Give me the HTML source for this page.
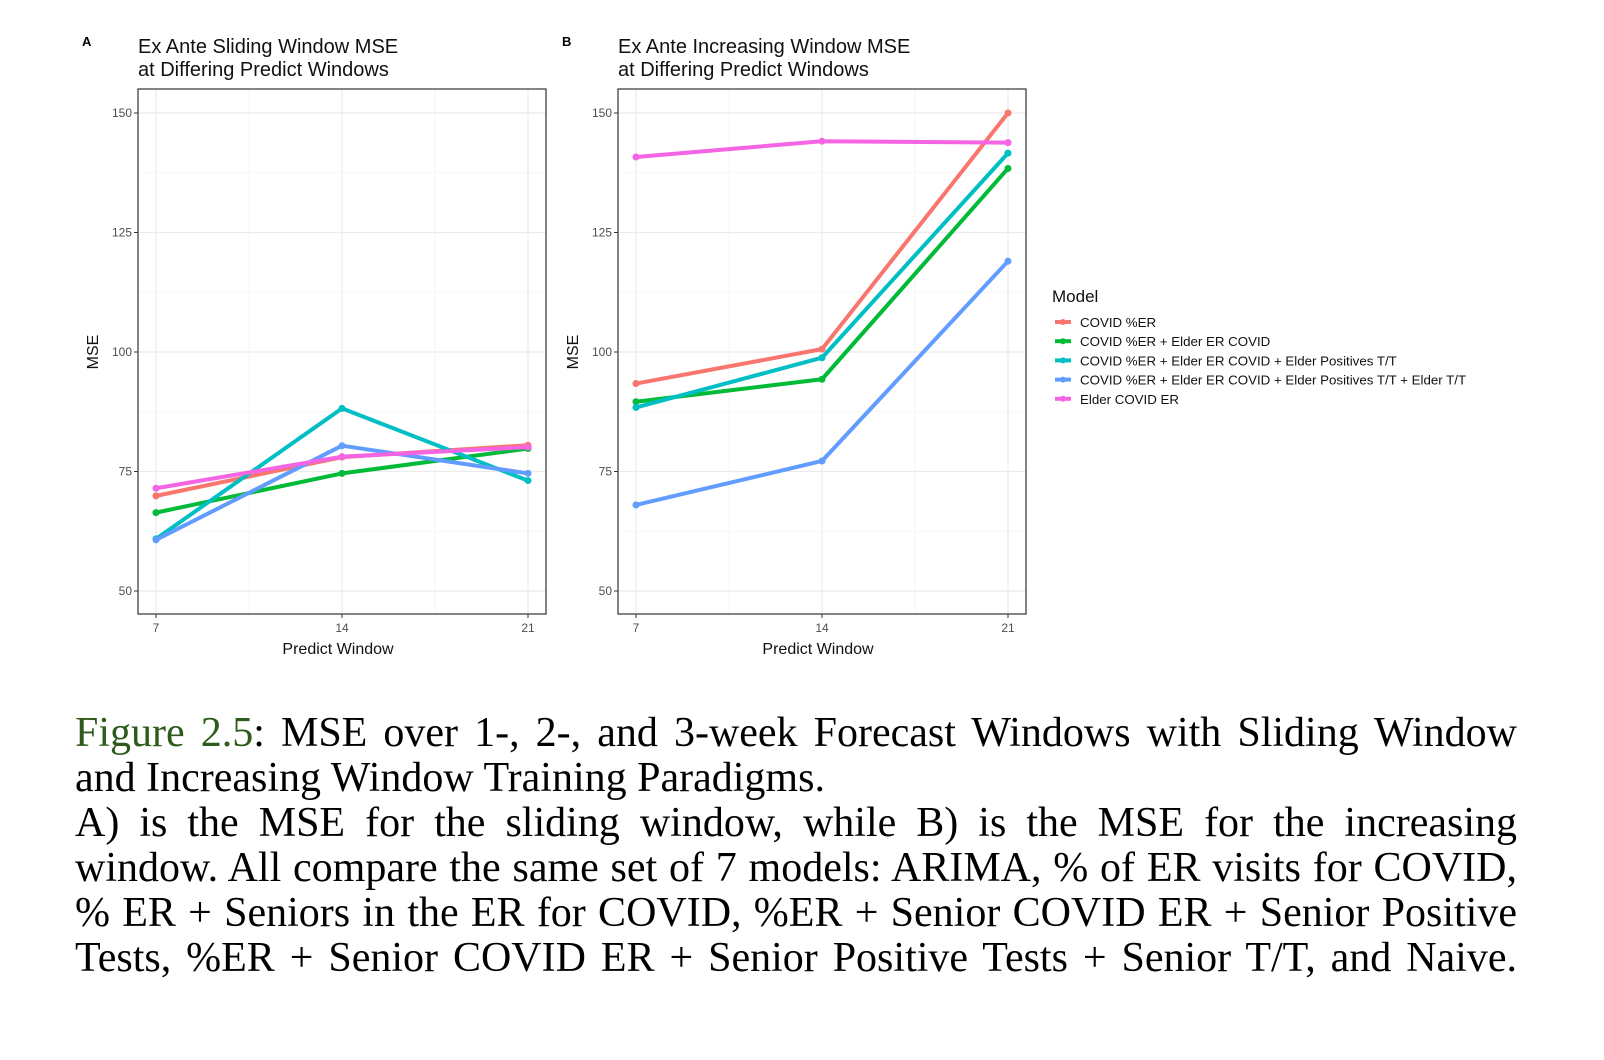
<!DOCTYPE html>
<html><head><meta charset="utf-8"><style>
body{margin:0;background:#fff;width:1604px;height:1060px;overflow:hidden;position:relative}
svg{position:absolute;left:0;top:0}
.cap{position:absolute;left:75px;width:1442px;font-family:"Liberation Serif",serif;font-size:42px;line-height:45px;color:#000;white-space:nowrap}
.j{text-align:justify;text-align-last:justify;white-space:normal}
</style></head><body>
<svg id="chart" width="1604" height="700" font-family="Liberation Sans, sans-serif"></svg>
<div class="cap j" style="top:711px"><span style="color:#2e5a1c">Figure 2.5</span>: MSE over 1-, 2-, and 3-week Forecast Windows with Sliding Window</div>
<div class="cap" style="top:756px">and Increasing Window Training Paradigms.</div>
<div class="cap j" style="top:801px">A) is the MSE for the sliding window, while B) is the MSE for the increasing</div>
<div class="cap j" style="top:846px">window. All compare the same set of 7 models: ARIMA, % of ER visits for COVID,</div>
<div class="cap j" style="top:891px">% ER + Seniors in the ER for COVID, %ER + Senior COVID ER + Senior Positive</div>
<div class="cap j" style="top:936px">Tests, %ER + Senior COVID ER + Senior Positive Tests + Senior T/T, and Naive.</div>
<script>
const categories=[7,14,21];
const yTicks=[50,75,100,125,150];
const seriesNames=["COVID %ER","COVID %ER + Elder ER COVID","COVID %ER + Elder ER COVID + Elder Positives T/T","COVID %ER + Elder ER COVID + Elder Positives T/T + Elder T/T","Elder COVID ER"];
const colors=["#f8766d","#00ba38","#00bfc4","#619cff","#f564e3"];
const slidingRed=[69.9,78.0,80.5];
const slidingGreen=[66.4,74.6,79.8];
const slidingCyan=[60.9,88.2,73.1];
const slidingBlue=[60.7,80.4,74.6];
const slidingPink=[71.5,78.1,80.1];
const incRed=[93.4,100.6,150.0];
const incGreen=[89.6,94.3,138.4];
const incCyan=[88.4,98.8,141.6];
const incBlue=[68.0,77.2,119.0];
const incPink=[140.8,144.1,143.8];
const panels=[
 {x0:138,label:"A",t1:"Ex Ante Sliding Window MSE",series:[slidingRed,slidingGreen,slidingCyan,slidingBlue,slidingPink]},
 {x0:618,label:"B",t1:"Ex Ante Increasing Window MSE",series:[incRed,incGreen,incCyan,incBlue,incPink]}];
const svg=document.getElementById('chart');
const NS="http://www.w3.org/2000/svg";
function mk(tag,at,parent){const e=document.createElementNS(NS,tag);for(const k in at)e.setAttribute(k,at[k]);(parent||svg).appendChild(e);return e;}
const plotTop=89,plotBot=614,W=408;
const yS=v=>591-(v-50)*4.78;
panels.forEach((p,pi)=>{
 const xS=c=>p.x0+18+(c-7)/14*(W-36);
 const g=mk('g',{});
 
 
 yTicks.forEach((t,i)=>{
  mk('line',{x1:p.x0,x2:p.x0+W,y1:yS(t),y2:yS(t),stroke:'#ebebeb','stroke-width':1.2},g);
  if(i<yTicks.length-1){const m=(t+yTicks[i+1])/2;mk('line',{x1:p.x0,x2:p.x0+W,y1:yS(m),y2:yS(m),stroke:'#f4f4f4','stroke-width':0.8},g);}
  mk('line',{x1:p.x0-4,x2:p.x0,y1:yS(t),y2:yS(t),stroke:'#333'},g);
  const tx=mk('text',{x:p.x0-6,y:yS(t)+4,'text-anchor':'end','font-size':12,fill:'#4d4d4d'},g);tx.textContent=t;
 });
 categories.forEach((c,i)=>{
  mk('line',{x1:xS(c),x2:xS(c),y1:plotTop,y2:plotBot,stroke:'#ebebeb','stroke-width':1.2},g);
  if(i<2)mk('line',{x1:(xS(c)+xS(categories[i+1]))/2,x2:(xS(c)+xS(categories[i+1]))/2,y1:plotTop,y2:plotBot,stroke:'#f4f4f4','stroke-width':0.8},g);
  mk('line',{x1:xS(c),x2:xS(c),y1:plotBot,y2:plotBot+4,stroke:'#333'},g);
  const tx=mk('text',{x:xS(c),y:plotBot+18,'text-anchor':'middle','font-size':12,fill:'#4d4d4d'},g);tx.textContent=c;
 });
 p.series.forEach((s,si)=>{
  const pl=mk('polyline',{points:s.map((v,i)=>xS(categories[i])+','+yS(v)).join(' '),fill:'none',stroke:colors[si],'stroke-width':4,'stroke-linejoin':'round'},g);
  
  
  s.forEach((v,i)=>{const c=mk('circle',{cx:xS(categories[i]),cy:yS(v),r:3.5,fill:colors[si]},g);
   
   });
 });
 mk('rect',{x:p.x0,y:plotTop,width:W,height:plotBot-plotTop,fill:'none',stroke:'#333','stroke-width':1.2},g);
 let t=mk('text',{x:p.x0-56,y:46,'font-size':13,'font-weight':'bold'},g);t.textContent=p.label;
 t=mk('text',{x:p.x0,y:53,'font-size':20,fill:'#111'},g);t.textContent=p.t1;
 t=mk('text',{x:p.x0,y:76,'font-size':20,fill:'#111'},g);t.textContent="at Differing Predict Windows";
 t=mk('text',{x:p.x0+W/2-4,y:654,'text-anchor':'middle','font-size':16,fill:'#111'},g);t.textContent="Predict Window";
 t=mk('text',{x:0,y:0,'text-anchor':'middle','font-size':16,fill:'#111',transform:`translate(${p.x0-40},352) rotate(-90)`},g);t.textContent="MSE";
});
const lg=mk('g',{});


let lt=mk('text',{x:1052,y:302,'font-size':17,fill:'#111'},lg);lt.textContent="Model";
seriesNames.forEach((n,i)=>{
 const y=322+i*19.2;
 mk('line',{x1:1055,x2:1071,y1:y,y2:y,stroke:colors[i],'stroke-width':4},lg);
 mk('circle',{cx:1063,cy:y,r:3,fill:colors[i]},lg);
 const t=mk('text',{x:1080,y:y+5,'font-size':13.3,fill:'#111'},lg);t.textContent=n;
 
 
});
</script>
</body></html>
